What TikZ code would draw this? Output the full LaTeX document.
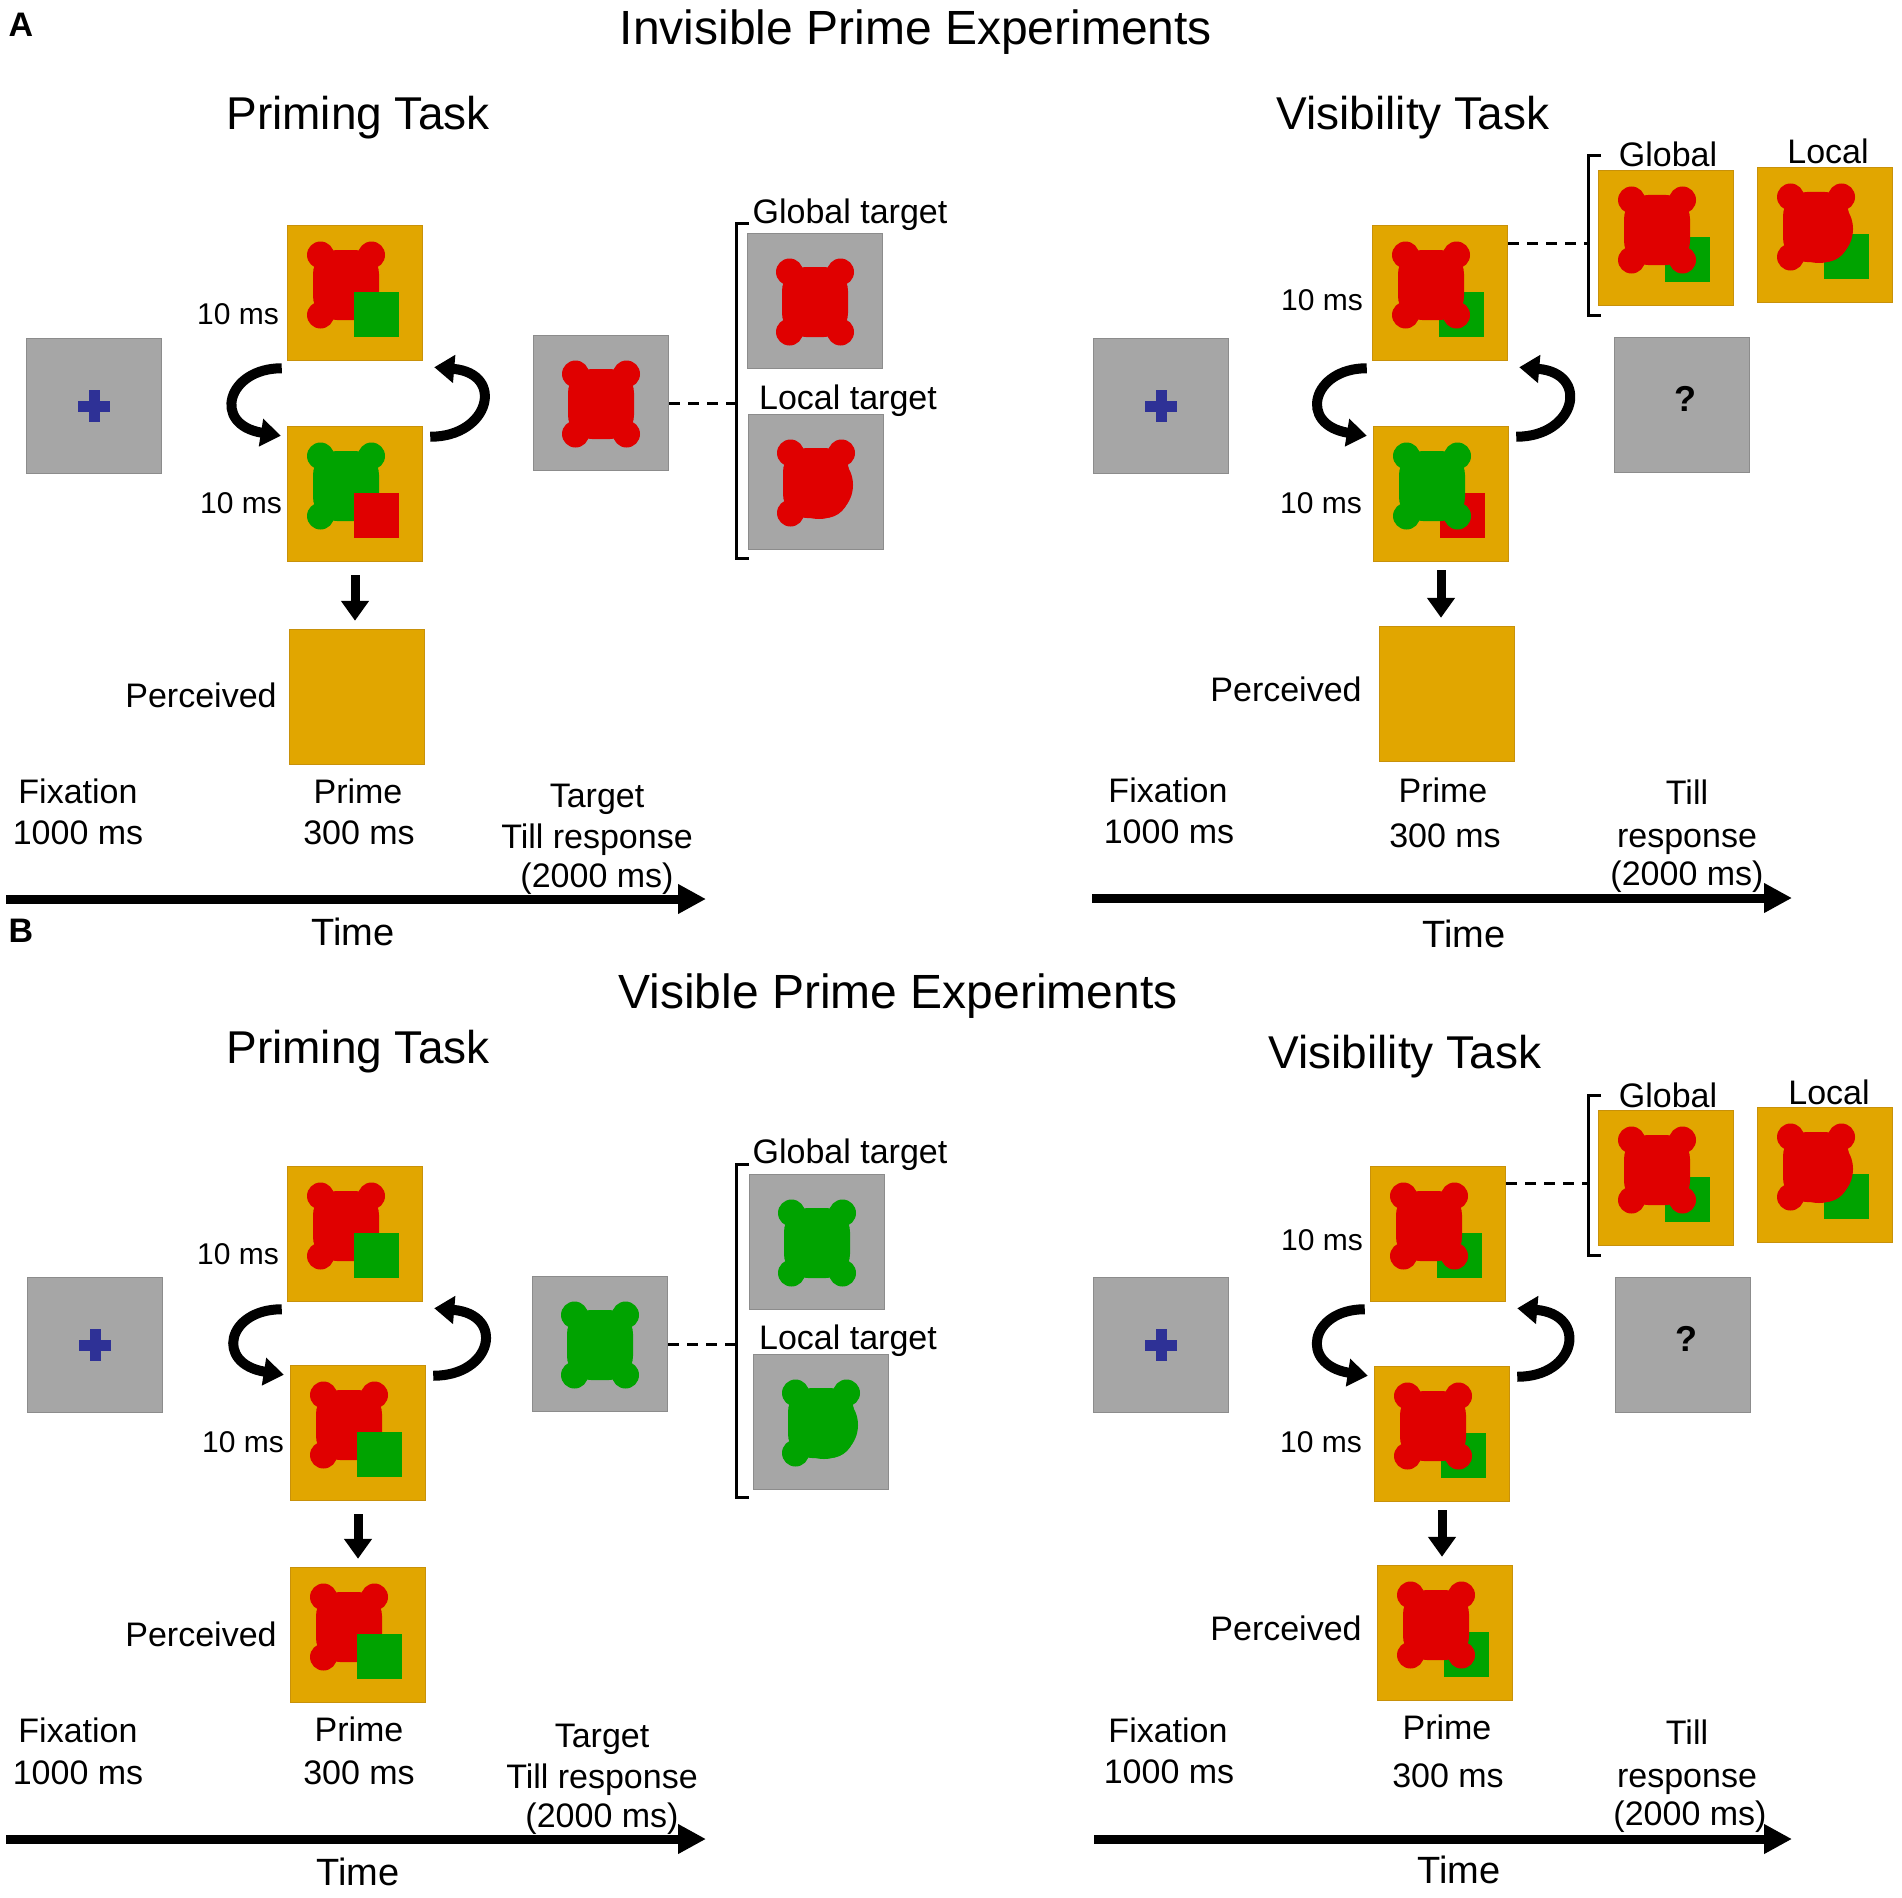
\documentclass[tikz,border=0pt]{standalone}
\usepackage{fontspec}
\setmainfont{Liberation Sans}
\usetikzlibrary{arrows.meta,calc}
\definecolor{OR}{RGB}{225,166,0}
\definecolor{ORd}{RGB}{200,145,10}
\definecolor{RD}{RGB}{224,0,0}
\definecolor{GN}{RGB}{0,163,0}
\definecolor{GY}{RGB}{166,166,166}
\definecolor{GYd}{RGB}{140,140,140}
\definecolor{BL}{RGB}{46,49,150}
\newcommand\fTitle{\fontsize{48}{56}\selectfont}
\newcommand\fSub{\fontsize{46}{54}\selectfont}
\newcommand\fLab{\fontsize{34}{40}\selectfont}
\newcommand\fSmall{\fontsize{30}{36}\selectfont}
\newcommand\fTime{\fontsize{38}{44}\selectfont}
\newcommand\fPan{\fontsize{34}{40}\selectfont\bfseries}
\newcommand\fQ{\fontsize{36}{42}\selectfont\bfseries}
\tikzset{
  obox/.style={rectangle, minimum width=135pt, minimum height=135pt, inner sep=0pt, fill=OR, draw=ORd, line width=1.5pt},
  gbox/.style={rectangle, minimum width=135pt, minimum height=135pt, inner sep=0pt, fill=GY, draw=GYd, line width=1.5pt},
  lab/.style={inner sep=0pt, font=\fLab, text height=24pt, text depth=0pt},
  small/.style={inner sep=0pt, font=\fSmall, text height=21.5pt, text depth=0pt},
  ttl/.style={inner sep=0pt, font=\fTitle, text height=34.4pt, text depth=0pt},
  sub/.style={inner sep=0pt, font=\fSub, text height=33pt, text depth=0pt},
  tim/.style={inner sep=0pt, font=\fTime, text height=27.2pt, text depth=0pt},
  pan/.style={inner sep=0pt, font=\fPan, text height=24pt, text depth=0pt},
  qmark/.style={inner sep=0pt, font=\fQ, text height=26pt, text depth=0pt},
  cyc/.style={line width=10pt, -{Triangle[width=27pt,length=20pt]}},
  downarr/.style={line width=9pt, -{Triangle[width=27pt,length=20pt]}},
  tline/.style={line width=9pt, -{Triangle[width=28pt,length=28pt]}},
  dsh/.style={line width=3pt, dash pattern=on 11pt off 8pt},
  brk/.style={line width=3pt},
  pics/gblob/.style={code={
    \fill[#1, rounded corners=24pt] (-33,-34) rectangle (33,36);
    \foreach \x/\y in {-25.5/-29,25.5/-29,-25.5/31,25.5/31} \fill[#1] (\x,\y) circle[radius=13.5];
  }},
  pics/lblob/.style={code={
    \fill[#1, rounded corners=24pt] (-33,-34) rectangle (33,36);
    \fill[#1] (3,3) circle[radius=34];
    \foreach \x/\y in {-25.5/-29,25.5/-29,-25.5/31} \fill[#1] (\x,\y) circle[radius=13.5];
  }},
  pics/sq/.style={code={\fill[#1] (-22.5,-22.5) rectangle (22.5,22.5);}},
  pics/cross/.style={code={\fill[BL] (-16,-5.5) rectangle (16,5.5); \fill[BL] (-5.5,-16) rectangle (5.5,16);}}
}
% prime stimulus, square on top: name, pos, blob col, square col
\newcommand\stimP[4]{%
  \node[obox] (#1) at #2 {};
  \pic at ($(#1.center)+(-9,-9)$) {gblob=#3};
  \pic at ($(#1.center)+(21,21)$) {sq=#4};
}
% stimulus with blob on top: name, pos, blob shape, blob col, square col
\newcommand\stimV[5]{%
  \node[obox] (#1) at #2 {};
  \pic at ($(#1.center)+(21,21)$) {sq=#5};
  \pic at ($(#1.center)+(-9,-9)$) {#3=#4};
}
\newcommand\cyclearrows[2]{%
  \draw[cyc] ($(#1.south west)+(-5,7)$) .. controls ($(#1.south west)+(-60,7)$) and ($(#2.north west)+(-75,-1)$) .. ($(#2.north west)+(-6,10)$);
  \draw[cyc] ($(#2.north east)+(7,11)$) .. controls ($(#2.north east)+(67,11)$) and ($(#1.south east)+(82,12)$) .. ($(#1.south east)+(11,6)$);
}
\begin{document}
\begin{tikzpicture}[x=1pt,y=-1pt]
\useasboundingbox (0,0) rectangle (1902,1897);
\fill[white] (0,0) rectangle (1902,1897);

%================ PANEL A =================
\node[pan] (lA) at (21,25) {A};
\node[ttl] (tA) at (916,27) {Invisible Prime Experiments};
\node[sub] (sA1) at (358,113) {Priming Task};
\node[sub] (sA2) at (1413,113) {Visibility Task};

% --- Priming task A
\node[gbox] (fixA) at (94,406) {};
\pic at (fixA.center) {cross};
\stimP{ptA1}{(355,293)}{RD}{GN}
\stimP{ptA2}{(355,494)}{GN}{RD}
\node[obox] (percA) at (357,697) {};
\cyclearrows{ptA1}{ptA2}
\draw[downarr] ($(ptA2.south)+(0,13)$) -- ($(ptA2.south|-percA.north)+(0,-8)$);
\node[gbox] (tgtA) at (601,403) {};
\pic at (tgtA.center) {gblob=RD};
\node[gbox] (gtA) at (815,301) {};
\pic at (gtA.center) {gblob=RD};
\node[gbox] (ltA) at (816,482) {};
\pic at (ltA.center) {lblob=RD};
\coordinate (brAt) at (736,223);
\coordinate (brAb) at (736,558);
\draw[brk] ($(brAt)+(13,0)$) -- (brAt) -- (brAb) -- ($(brAb)+(13,0)$);
\draw[dsh] (tgtA.east) -- (tgtA.east -| brAt);
\node[lab] (gltA) at (850,211) {Global target};
\node[lab] (lctA) at (848,397) {Local target};
\node[small] (msA1) at (238,314) {10 ms};
\node[small] (msA2) at (241,503) {10 ms};
\node[lab] (pcA) at (201,695) {Perceived};
\node[lab] (fxA1) at (78,791) {Fixation};
\node[lab] (fxA2) at (78,832) {1000 ms};
\node[lab] (prA1) at (358,791) {Prime};
\node[lab] (prA2) at (359,832) {300 ms};
\node[lab] (tgA1) at (597,795) {Target};
\node[lab] (tgA2) at (597,836) {Till response};
\node[lab] (tgA3) at (597,875) {(2000 ms)};
\coordinate (taA0) at (6,899);
\coordinate (taA1) at (706,899);
\draw[tline] (taA0) -- (taA1);
\node[tim] (tmA) at (353,932) {Time};

% --- Visibility task A
\node[gbox] (fixAv) at (1161,406) {};
\pic at (fixAv.center) {cross};
\stimV{pvA1}{(1440,293)}{gblob}{RD}{GN}
\stimV{pvA2}{(1441,494)}{gblob}{GN}{RD}
\node[obox] (percAv) at (1447,694) {};
\cyclearrows{pvA1}{pvA2}
\draw[downarr] ($(pvA2.south)+(0,8)$) -- ($(pvA2.south|-percAv.north)+(0,-8)$);
\node[gbox] (qA) at (1682,405) {};
\node[qmark] (qmA) at (1685,398) {?};
\stimV{glA}{(1666,238)}{gblob}{RD}{GN}
\stimV{loA}{(1825,235)}{lblob}{RD}{GN}
\coordinate (brVAt) at (1588,156);
\coordinate (brVAb) at (1588,315);
\draw[brk] ($(brVAt)+(13,0)$) -- (brVAt) -- (brVAb) -- ($(brVAb)+(13,0)$);
\coordinate (dA) at ($(pvA1.east)+(0,-50)$);
\draw[dsh] (dA) -- (dA -| brVAt);
\node[lab] (glabA) at (1668,155) {Global};
\node[lab] (llabA) at (1828,152) {Local};
\node[small] (msV1) at (1322,300) {10 ms};
\node[small] (msV2) at (1321,503) {10 ms};
\node[lab] (pcV) at (1286,689) {Perceived};
\node[lab] (fxV1) at (1168,790) {Fixation};
\node[lab] (fxV2) at (1169,831) {1000 ms};
\node[lab] (prV1) at (1443,790) {Prime};
\node[lab] (prV2) at (1445,835) {300 ms};
\node[lab] (tlV1) at (1687,792) {Till};
\node[lab] (tlV2) at (1687,835) {response};
\node[lab] (tlV3) at (1687,873) {(2000 ms)};
\coordinate (taV0) at (1092,898);
\coordinate (taV1) at (1792,898);
\draw[tline] (taV0) -- (taV1);
\node[tim] (tmV) at (1464,934) {Time};

%================ PANEL B =================
\node[pan] (lB) at (21,930) {B};
\node[ttl] (tB) at (898,991) {Visible Prime Experiments};
\node[sub] (sB1) at (358,1047) {Priming Task};
\node[sub] (sB2) at (1405,1052) {Visibility Task};

% --- Priming task B
\node[gbox] (fixB) at (95,1345) {};
\pic at (fixB.center) {cross};
\stimP{ptB1}{(355,1234)}{RD}{GN}
\stimP{ptB2}{(358,1433)}{RD}{GN}
\stimP{percB}{(358,1635)}{RD}{GN}
\cyclearrows{ptB1}{ptB2}
\draw[downarr] ($(ptB2.south)+(0,13)$) -- ($(ptB2.south|-percB.north)+(0,-8)$);
\node[gbox] (tgtB) at (600,1344) {};
\pic at (tgtB.center) {gblob=GN};
\node[gbox] (gtB) at (817,1242) {};
\pic at (gtB.center) {gblob=GN};
\node[gbox] (ltB) at (821,1422) {};
\pic at (ltB.center) {lblob=GN};
\coordinate (brBt) at (736,1164);
\coordinate (brBb) at (736,1497);
\draw[brk] ($(brBt)+(13,0)$) -- (brBt) -- (brBb) -- ($(brBb)+(13,0)$);
\draw[dsh] (tgtB.east) -- (tgtB.east -| brBt);
\node[lab] (gltB) at (850,1151) {Global target};
\node[lab] (lctB) at (848,1337) {Local target};
\node[small] (msB1) at (238,1254) {10 ms};
\node[small] (msB2) at (243,1442) {10 ms};
\node[lab] (pcB) at (201,1634) {Perceived};
\node[lab] (fxB1) at (78,1730) {Fixation};
\node[lab] (fxB2) at (78,1772) {1000 ms};
\node[lab] (prB1) at (359,1729) {Prime};
\node[lab] (prB2) at (359,1772) {300 ms};
\node[lab] (tgB1) at (602,1735) {Target};
\node[lab] (tgB2) at (602,1776) {Till response};
\node[lab] (tgB3) at (602,1815) {(2000 ms)};
\coordinate (taB0) at (6,1839);
\coordinate (taB1) at (706,1839);
\draw[tline] (taB0) -- (taB1);
\node[tim] (tmB) at (358,1872) {Time};

% --- Visibility task B
\node[gbox] (fixBv) at (1161,1345) {};
\pic at (fixBv.center) {cross};
\stimV{pvB1}{(1438,1234)}{gblob}{RD}{GN}
\stimV{pvB2}{(1442,1434)}{gblob}{RD}{GN}
\stimV{percBv}{(1445,1633)}{gblob}{RD}{GN}
\cyclearrows{pvB1}{pvB2}
\draw[downarr] ($(pvB2.south)+(0,8)$) -- ($(pvB2.south|-percBv.north)+(0,-8)$);
\node[gbox] (qB) at (1683,1345) {};
\node[qmark] (qmB) at (1686,1338) {?};
\stimV{glB}{(1666,1178)}{gblob}{RD}{GN}
\stimV{loB}{(1825,1175)}{lblob}{RD}{GN}
\coordinate (brVBt) at (1588,1095);
\coordinate (brVBb) at (1588,1255);
\draw[brk] ($(brVBt)+(13,0)$) -- (brVBt) -- (brVBb) -- ($(brVBb)+(13,0)$);
\coordinate (dB) at ($(pvB1.east)+(0,-51)$);
\draw[dsh] (dB) -- (dB -| brVBt);
\node[lab] (glabB) at (1668,1095) {Global};
\node[lab] (llabB) at (1829,1092) {Local};
\node[small] (msW1) at (1322,1240) {10 ms};
\node[small] (msW2) at (1321,1442) {10 ms};
\node[lab] (pcW) at (1286,1628) {Perceived};
\node[lab] (fxW1) at (1168,1730) {Fixation};
\node[lab] (fxW2) at (1169,1771) {1000 ms};
\node[lab] (prW1) at (1447,1727) {Prime};
\node[lab] (prW2) at (1448,1775) {300 ms};
\node[lab] (tlW1) at (1687,1732) {Till};
\node[lab] (tlW2) at (1687,1775) {response};
\node[lab] (tlW3) at (1690,1813) {(2000 ms)};
\coordinate (taW0) at (1094,1839);
\coordinate (taW1) at (1792,1839);
\draw[tline] (taW0) -- (taW1);
\node[tim] (tmW) at (1459,1870) {Time};
\end{tikzpicture}
\end{document}
